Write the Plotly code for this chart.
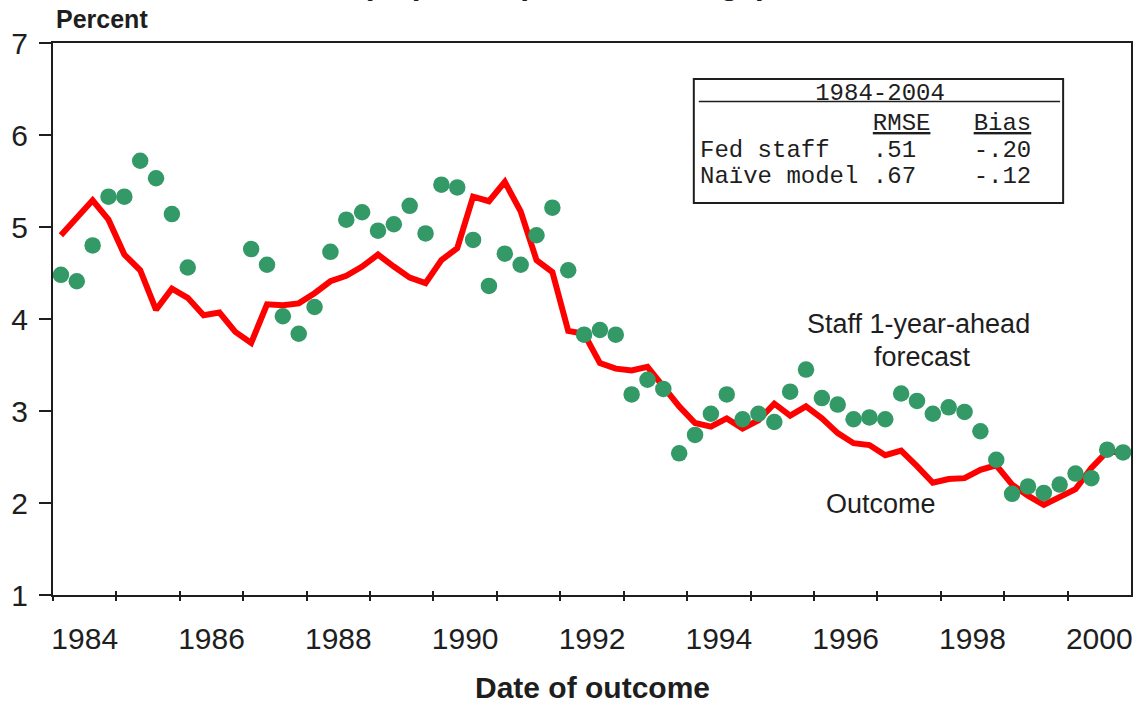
import plotly.graph_objects as go

# ---------------- data ----------------
years = list(range(1984, 2001))
quarters = [f"{y}Q{q}" for y in years for q in range(1, 5)]

outcome = [4.91, 5.11, 5.29, 5.08, 4.70, 4.53, 4.10, 4.33,
           4.23, 4.04, 4.07, 3.86, 3.74, 4.16, 4.15, 4.17,
           4.28, 4.41, 4.47, 4.57, 4.70, 4.57, 4.45, 4.39,
           4.64, 4.77, 5.33, 5.28, 5.49, 5.17, 4.64, 4.51,
           3.87, 3.84, 3.52, 3.46, 3.44, 3.48, 3.26, 3.05,
           2.87, 2.83, 2.92, 2.81, 2.90, 3.08, 2.95, 3.05,
           2.92, 2.76, 2.65, 2.63, 2.52, 2.57, 2.40, 2.22,
           2.26, 2.27, 2.36, 2.41, 2.20, 2.08, 1.98, 2.06,
           2.15, 2.38, 2.56, 2.55]

staff_forecast = [4.48, 4.41, 4.80, 5.33, 5.33, 5.72, 5.53, 5.14,
                  4.56, None, None, None, 4.76, 4.59, 4.03, 3.84,
                  4.13, 4.73, 5.08, 5.16, 4.96, 5.03, 5.23, 4.93,
                  5.46, 5.43, 4.86, 4.36, 4.71, 4.59, 4.91, 5.21,
                  4.53, 3.83, 3.88, 3.83, 3.18, 3.34, 3.24, 2.54,
                  2.74, 2.97, 3.18, 2.91, 2.97, 2.88, 3.21, 3.45,
                  3.14, 3.07, 2.91, 2.93, 2.91, 3.19, 3.11, 2.97,
                  3.04, 2.99, 2.78, 2.47, 2.10, 2.18, 2.11, 2.20,
                  2.32, 2.27, 2.58, 2.55]

label_years = [1984, 1986, 1988, 1990, 1992, 1994, 1996, 1998, 2000]
y_ticks = [1, 2, 3, 4, 5, 6, 7]

table_period = "1984-2004"
table_rows = ["Fed staff", "Naïve model"]
table_rmse = [".51", ".67"]
table_bias = ["-.20", "-.12"]

# ---------------- helpers ----------------
xq = [int(q[:4]) + (int(q[-1]) - 0.5) / 4 for q in quarters]

L, R, T, B = 53, 1133, 43, 595
W, H = 1136, 704


def px_x(px):
    return (px - L) / (R - L)


def px_y(py):
    return (B - py) / (B - T)


SANS = "Arial, Liberation Sans, sans-serif"
MONO = "Courier New, Liberation Mono, monospace"
INK = "#1e1e1e"

fig = go.Figure()
fig.add_trace(go.Scatter(x=xq, y=outcome, mode="lines",
                         line=dict(color="#ff0000", width=6),
                         showlegend=False, hoverinfo="skip"))
fig.add_trace(go.Scatter(x=xq, y=staff_forecast, mode="markers",
                         marker=dict(size=16.5, color="#339966"),
                         showlegend=False, hoverinfo="skip"))
# dummy trace for the overlaid axis carrying inner tick marks
fig.add_trace(go.Scatter(x=[None], y=[None], xaxis="x2", yaxis="y",
                         showlegend=False, hoverinfo="skip"))

fig.update_layout(
    width=W, height=H,
    margin=dict(l=L, r=W - R, t=T, b=H - B),
    paper_bgcolor="white", plot_bgcolor="white",
    font=dict(family=SANS, color=INK),
    xaxis=dict(range=[years[0], years[-1] + 1],
               tickmode="array",
               tickvals=[y + 0.5 for y in label_years],
               ticktext=[str(y) for y in label_years],
               ticks="", showgrid=False, zeroline=False,
               showline=True, linecolor=INK, linewidth=2, mirror=True,
               tickfont=dict(size=30, color=INK, family=SANS),
               ticklabelstandoff=16,
               minor=dict(tickmode="array", tickvals=years,
                          ticks="outside", ticklen=4, tickwidth=2,
                          tickcolor=INK, showgrid=False)),
    xaxis2=dict(range=[years[0], years[-1] + 1], overlaying="x",
                matches="x", anchor="y", side="bottom",
                tickmode="array", tickvals=years,
                ticks="inside", ticklen=4, tickwidth=2, tickcolor=INK,
                showticklabels=False, showline=False, showgrid=False,
                zeroline=False),
    yaxis=dict(range=[1, 7], tickmode="array", tickvals=y_ticks,
               ticks="outside", ticklen=12, tickwidth=2, tickcolor=INK,
               showgrid=False, zeroline=False,
               showline=True, linecolor=INK, linewidth=2, mirror=True,
               tickfont=dict(size=30, color=INK, family=SANS),
               ticklabelstandoff=5),
)

# clipped title line at the very top (only descenders visible, as in the reference)
fig.add_annotation(xref="paper", yref="paper", x=px_x(565), y=px_y(3),
                   xanchor="center", yanchor="bottom", showarrow=False,
                   text="<b>(4-quarter percent change)</b>",
                   font=dict(size=32, family=SANS, color=INK))
# Percent label
fig.add_annotation(xref="paper", yref="paper", x=px_x(54), y=px_y(18.5),
                   xanchor="left", yanchor="middle", showarrow=False,
                   text="<b>Percent</b>",
                   font=dict(size=25, family=SANS, color=INK))
# x-axis title
fig.add_annotation(xref="paper", yref="paper", x=0.5, y=px_y(687),
                   xanchor="center", yanchor="middle", showarrow=False,
                   text="<b>Date of outcome</b>",
                   font=dict(size=30, family=SANS, color=INK))
# series labels (data coordinates)
fig.add_annotation(x=1997.655, y=3.95, showarrow=False,
                   text="Staff 1-year-ahead",
                   font=dict(size=27, family=SANS, color=INK))
fig.add_annotation(x=1997.71, y=3.59, showarrow=False,
                   text="forecast",
                   font=dict(size=27, family=SANS, color=INK))
fig.add_annotation(x=1997.06, y=1.99, showarrow=False,
                   text="Outcome",
                   font=dict(size=27, family=SANS, color=INK))

# statistics table
fig.add_shape(type="rect", xref="paper", yref="paper",
              x0=px_x(695), x1=px_x(1065), y0=px_y(203), y1=px_y(79),
              line=dict(color=INK, width=2), fillcolor="white", layer="above")
fig.add_shape(type="line", xref="paper", yref="paper",
              x0=px_x(700), x1=px_x(1062), y0=px_y(101.5), y1=px_y(101.5),
              line=dict(color=INK, width=1.5), layer="above")

NB = "\u00a0"


def row_html(parts_cols):
    out = ""
    cur = 0
    for text, col, tag in parts_cols:
        pad = max(0, col - cur)
        out += NB * pad + (f"<{tag}>{text}</{tag}>" if tag else text)
        cur += pad + len(text)
    return out


rows_text = [
    (row_html([(table_period, 8, None)]), 93.3),
    (row_html([("RMSE", 12, "u"), ("Bias", 19, "u")]), 123.3),
]
for (name, rm, bi), yy in zip(zip(table_rows, table_rmse, table_bias), [150.3, 176.7]):
    rows_text.append((row_html([(name, 0, None), (rm, 12, None), (bi, 19, None)]), yy))

for txt, yy in rows_text:
    fig.add_annotation(xref="paper", yref="paper", x=px_x(699), y=px_y(yy),
                       xanchor="left", yanchor="middle", showarrow=False,
                       text=txt, font=dict(size=24, family=MONO, color=INK))

fig.write_html("out.html",
               config={"displayModeBar": False},
               post_script="document.body.style.margin='0';"
                           "document.body.style.overflow='hidden';")
